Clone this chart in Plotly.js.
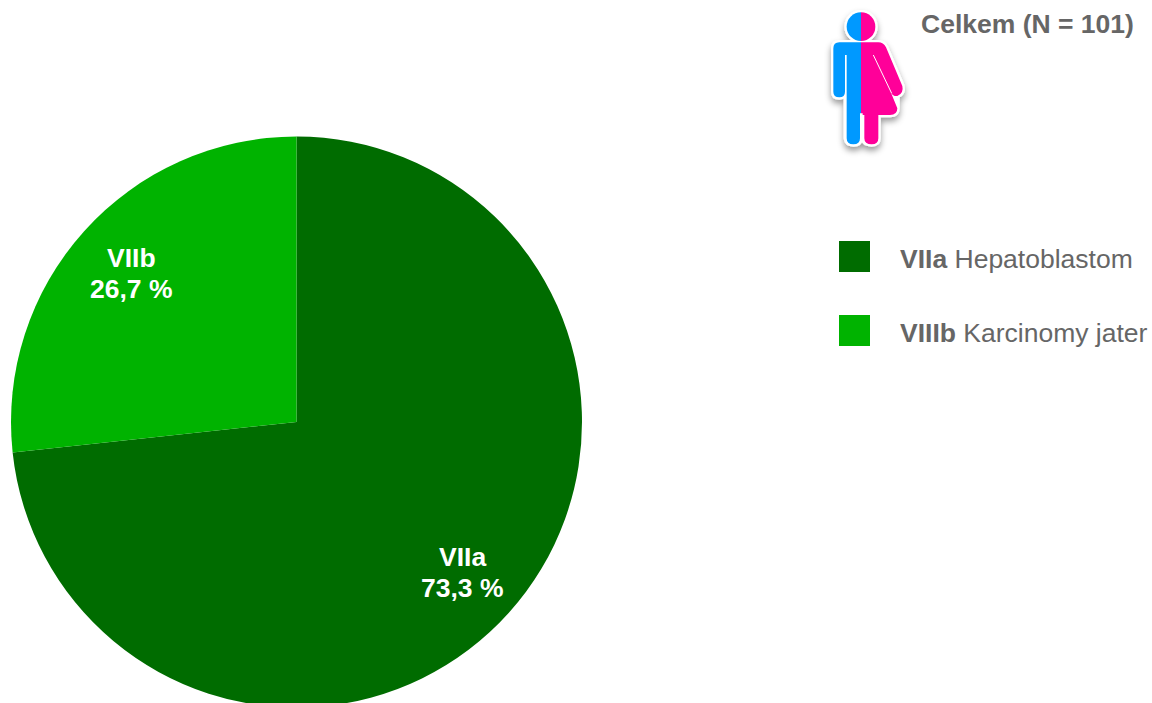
<!DOCTYPE html>
<html><head><meta charset="utf-8">
<script src="https://cdn.plot.ly/plotly-3.0.1.min.js"></script>
<style>html,body{margin:0;padding:0;width:1152px;height:703px;overflow:hidden;background:#fff}</style>
</head><body><div id="chart"></div>
<script>
const categories = ["VIIa", "VIIb"];
const values = [73.3, 26.7];
const valueLabels = ["73,3 %", "26,7 %"];
const colors = ["#006C00", "#00B300"];
const legendKeys = ["VIIa", "VIIIb"];
const legendNames = ["Hepatoblastom", "Karcinomy jater"];
const headline = "Celkem (N = 101)";

const W = 1152, H = 760; // taller than the window: the pie runs past the bottom edge
const cx = 296.5, cy = 422, r = 285.5;
const px = x => x / W, py = y => 1 - y / H;
const FONT = "Liberation Sans, Arial";

const icon = `<svg xmlns="http://www.w3.org/2000/svg" width="360" height="480" viewBox="0 0 360 480">
<defs><filter id="s" x="-30%" y="-30%" width="160%" height="160%"><feDropShadow dx="0" dy="12" stdDeviation="10" flood-color="#000" flood-opacity="0.4"/></filter>
<filter id="b"><feGaussianBlur stdDeviation="1.5"/></filter></defs>
<g filter="url(#s)" stroke="#fff" stroke-width="14" stroke-linejoin="round" fill="#fff">
<circle cx="153" cy="80" r="43"/>
<path d="M153,127H88Q70,127 70,145V275Q70,292 88,292Q105,292 108,275V415Q110,433 130,433Q150,433 153,415Z"/>
<path d="M153,127H205Q220,127 228,142L277,258Q282,280 262,288L262,325Q262,345 240,345H205V415Q205,433 185,433Q163,433 157,415L153,345Z"/>
</g>
<g filter="url(#b)">
<path d="M153,37A43,43 0 0 0 153,123Z" fill="#0099FF"/>
<path d="M153,37A43,43 0 0 1 153,123Z" fill="#FF0099"/>
<path d="M153,127H88Q70,127 70,145V275Q70,292 88,292Q105,292 105,275V165H110V415Q110,433 130,433Q150,433 150,415V340H153Z" fill="#0099FF"/>
<path d="M153,127H205Q220,127 228,142L277,258Q282,280 262,288Q250,290 243,278L262,325Q262,345 240,345H205V415Q205,433 185,433Q163,433 163,415V345H158V340H153Z" fill="#FF0099"/>
<path d="M190,165L245,280" stroke="#fff" stroke-width="3" fill="none"/>
</g>
</svg>`;

const trace = {
  type: "pie", labels: categories, values: values, sort: false, direction: "clockwise", rotation: 0,
  marker: {colors: colors, line: {width: 0}}, textinfo: "none", hoverinfo: "none", showlegend: false,
  domain: {x: [px(cx - r), px(cx + r)], y: [py(cy + r), py(cy - r)]}
};

const labelPos = [[462, 557], [131, 258]];
const lineGap = 31;
const annotations = [];
const note = (x, y, text, anchor, size, color) => annotations.push({
  xref: "paper", yref: "paper", x: px(x), y: py(y), text, showarrow: false,
  xanchor: anchor, yanchor: "middle", font: {family: FONT, size, color}
});
categories.forEach((c, i) => {
  note(labelPos[i][0], labelPos[i][1], "<b>" + c + "</b>", "center", 26.5, "#fff");
  note(labelPos[i][0], labelPos[i][1] + lineGap, "<b>" + valueLabels[i] + "</b>", "center", 26.5, "#fff");
});
note(1027, 24, "<b>" + headline + "</b>", "center", 26.5, "#666");
const legendY = [258, 332];
const shapes = [];
legendKeys.forEach((k, i) => {
  note(898, legendY[i] + 0.5, "<b>" + k + "</b> " + legendNames[i], "left", 26.5, "#666");
  shapes.push({
    type: "rect", xref: "paper", yref: "paper", x0: px(839), x1: px(870),
    y0: py(legendY[i] - 17), y1: py(legendY[i] + 14), fillcolor: colors[i], line: {width: 0}
  });
});

Plotly.newPlot("chart", [trace], {
  width: W, height: H, margin: {l: 0, r: 0, t: 0, b: 0}, paper_bgcolor: "#fff", showlegend: false,
  annotations, shapes,
  images: [{
    source: "data:image/svg+xml;base64," + btoa(icon), xref: "paper", yref: "paper",
    x: px(810), y: py(0), sizex: 120 / W, sizey: 160 / H, xanchor: "left", yanchor: "top", sizing: "stretch", layer: "above"
  }]
}, {staticPlot: true});
</script></body></html>
